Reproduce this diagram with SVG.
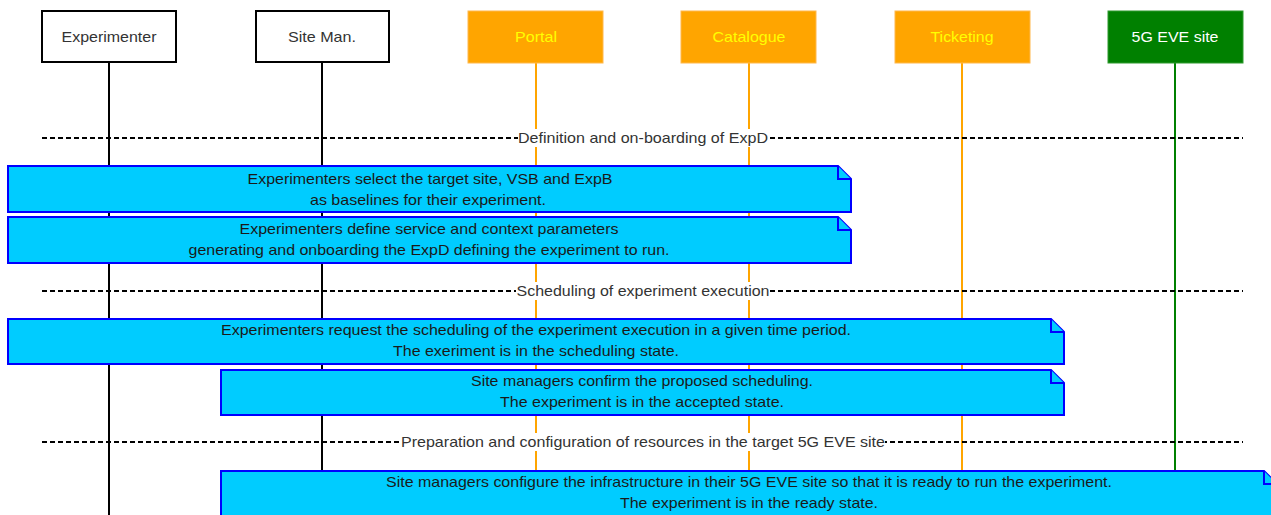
<svg xmlns="http://www.w3.org/2000/svg" width="1271" height="515" viewBox="0 0 1271 515">
  <style>
    text { font-family: "Liberation Sans", Arial, sans-serif; font-size: 15px; text-anchor: middle; }
    .actor { fill: #ffffff; stroke: #000000; stroke-width: 2; }
    .svc { fill: #FFA500; stroke: #FFB84D; stroke-width: 1; }
    .site { fill: #008000; stroke: #2E9A2E; stroke-width: 1; }
    .life-k { stroke: #000000; stroke-width: 2; fill: none; }
    .life-o { stroke: #FFA500; stroke-width: 2; fill: none; }
    .life-g { stroke: #008000; stroke-width: 2; fill: none; }
    .sep { stroke: #000000; stroke-width: 2; stroke-dasharray: 5 3; fill: none; }
    .sep-bg { fill: #ffffff; }
    .sep-label { fill: #333333; }
    .note { fill: #00CCFF; stroke: #0000FF; stroke-width: 2; stroke-linejoin: miter; }
    .note-text { fill: #1a1a1a; }
    .hdr-dark { fill: #333333; }
    .hdr-yellow { fill: #FFFF00; }
    .hdr-white { fill: #ffffff; }
  </style>

  <!-- lifelines -->
  <g id="lifelines">
    <line class="life-k" x1="109" y1="62" x2="109" y2="515"/>
    <line class="life-k" x1="322" y1="62" x2="322" y2="515"/>
    <line class="life-o" x1="536" y1="63" x2="536" y2="515"/>
    <line class="life-o" x1="749" y1="63" x2="749" y2="515"/>
    <line class="life-o" x1="962" y1="63" x2="962" y2="515"/>
    <line class="life-g" x1="1175" y1="63" x2="1175" y2="515"/>
  </g>

  <!-- participants -->
  <g id="experimenter">
    <rect class="actor" x="42" y="11" width="134" height="51"/>
    <text class="hdr-dark" x="109" y="42" textLength="95" lengthAdjust="spacingAndGlyphs">Experimenter</text>
  </g>
  <g id="site-manager">
    <rect class="actor" x="256" y="11" width="133" height="51"/>
    <text class="hdr-dark" x="322" y="42" textLength="68" lengthAdjust="spacingAndGlyphs">Site Man.</text>
  </g>
  <g id="portal">
    <rect class="svc" x="468" y="11" width="135" height="52"/>
    <text class="hdr-yellow" x="536" y="42" textLength="42" lengthAdjust="spacingAndGlyphs">Portal</text>
  </g>
  <g id="catalogue">
    <rect class="svc" x="681" y="11" width="135" height="52"/>
    <text class="hdr-yellow" x="749" y="42" textLength="73" lengthAdjust="spacingAndGlyphs">Catalogue</text>
  </g>
  <g id="ticketing">
    <rect class="svc" x="895" y="11" width="135" height="52"/>
    <text class="hdr-yellow" x="962" y="42" textLength="63" lengthAdjust="spacingAndGlyphs">Ticketing</text>
  </g>
  <g id="eve-site">
    <rect class="site" x="1108" y="11" width="135" height="52"/>
    <text class="hdr-white" x="1175" y="42" textLength="87" lengthAdjust="spacingAndGlyphs">5G EVE site</text>
  </g>

  <!-- phase separators -->
  <g id="connectors">
    <g id="phase-definition">
      <line class="sep" x1="42" y1="138" x2="1243" y2="138"/>
      <rect class="sep-bg" x="518" y="129" width="250" height="18"/>
      <text class="sep-label" x="643" y="143" textLength="250" lengthAdjust="spacingAndGlyphs">Definition and on-boarding of ExpD</text>
    </g>
    <g id="phase-scheduling">
      <line class="sep" x1="42" y1="291" x2="1243" y2="291"/>
      <rect class="sep-bg" x="516" y="282" width="253" height="18"/>
      <text class="sep-label" x="643" y="296" textLength="253" lengthAdjust="spacingAndGlyphs">Scheduling of experiment execution</text>
    </g>
    <g id="phase-preparation">
      <line class="sep" x1="42" y1="442" x2="1243" y2="442"/>
      <rect class="sep-bg" x="401" y="433" width="484" height="18"/>
      <text class="sep-label" x="643" y="447" textLength="484" lengthAdjust="spacingAndGlyphs">Preparation and configuration of resources in the target 5G EVE site</text>
    </g>
  </g>

  <!-- notes -->
  <g id="note-select">
    <path class="note" d="M8,166 H838 L851,179 V212 H8 Z"/>
    <path class="note" d="M838,166 V179 H851"/>
    <text class="note-text" x="430" y="184" textLength="365" lengthAdjust="spacingAndGlyphs">Experimenters select the target site, VSB and ExpB</text>
    <text class="note-text" x="428" y="205" textLength="236" lengthAdjust="spacingAndGlyphs">as baselines for their experiment.</text>
  </g>
  <g id="note-define">
    <path class="note" d="M8,217 H838 L851,230 V263 H8 Z"/>
    <path class="note" d="M838,217 V230 H851"/>
    <text class="note-text" x="429" y="234" textLength="379" lengthAdjust="spacingAndGlyphs">Experimenters define service and context parameters</text>
    <text class="note-text" x="429" y="255" textLength="481" lengthAdjust="spacingAndGlyphs">generating and onboarding the ExpD defining the experiment to run.</text>
  </g>
  <g id="note-request">
    <path class="note" d="M8,319 H1051 L1064,332 V364 H8 Z"/>
    <path class="note" d="M1051,319 V332 H1064"/>
    <text class="note-text" x="536" y="335" textLength="630" lengthAdjust="spacingAndGlyphs">Experimenters request the scheduling of the experiment execution in a given time period.</text>
    <text class="note-text" x="536" y="356" textLength="286" lengthAdjust="spacingAndGlyphs">The exeriment is in the scheduling state.</text>
  </g>
  <g id="note-confirm">
    <path class="note" d="M221,370 H1051 L1064,383 V415 H221 Z"/>
    <path class="note" d="M1051,370 V383 H1064"/>
    <text class="note-text" x="642" y="386" textLength="342" lengthAdjust="spacingAndGlyphs">Site managers confirm the proposed scheduling.</text>
    <text class="note-text" x="642" y="407" textLength="284" lengthAdjust="spacingAndGlyphs">The experiment is in the accepted state.</text>
  </g>
  <g id="note-configure">
    <path class="note" d="M221,471 H1264 L1277,484 V525 H221 Z"/>
    <path class="note" d="M1264,471 V484 H1277"/>
    <text class="note-text" x="749" y="487" textLength="726" lengthAdjust="spacingAndGlyphs">Site managers configure the infrastructure in their 5G EVE site so that it is ready to run the experiment.</text>
    <text class="note-text" x="749" y="508" textLength="258" lengthAdjust="spacingAndGlyphs">The experiment is in the ready state.</text>
  </g>
</svg>
